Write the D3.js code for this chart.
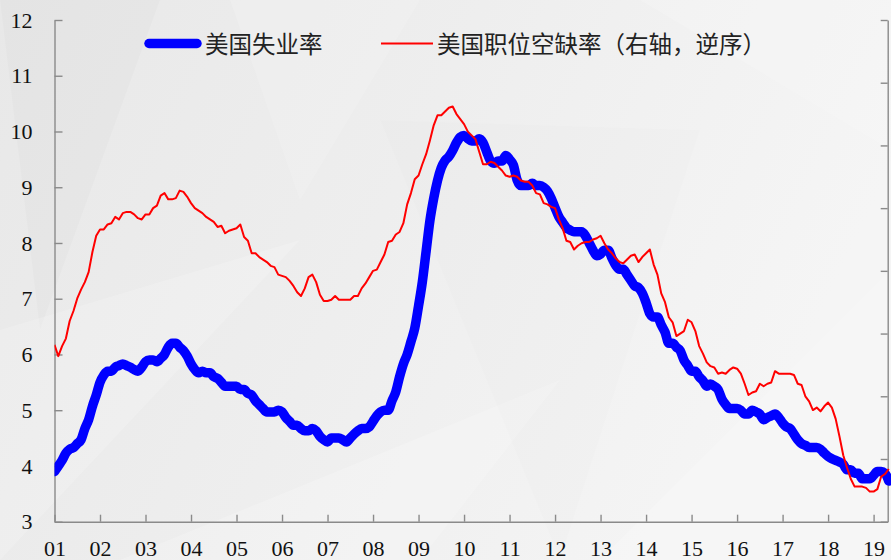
<!DOCTYPE html>
<html>
<head>
<meta charset="utf-8">
<script src="https://cdn.jsdelivr.net/npm/d3@7"></script>
<style>
html, body { margin: 0; padding: 0; background: #efefef; }
svg { display: block; }
</style>
</head>
<body>
<div class="chart"></div>
<script>
// monthly series, first value = Dec 2000
var startYear = 2000, startMonth = 12;
var tickYears = d3.range(2001, 2020);
var leftTicks = d3.range(3, 13);
var rightTicks = d3.range(1, 5.01, 0.5);

// US unemployment rate (3m avg), %
var unemployment = [3.90,
  4.00, 4.10, 4.23, 4.30, 4.33, 4.40, 4.47, 4.67, 4.83, 5.07, 5.27, 5.50,
  5.63, 5.70, 5.70, 5.77, 5.80, 5.83, 5.80, 5.77, 5.73, 5.70, 5.77, 5.87,
  5.90, 5.90, 5.87, 5.93, 6.00, 6.13, 6.20, 6.20, 6.13, 6.07, 5.97, 5.83,
  5.73, 5.67, 5.70, 5.67, 5.67, 5.60, 5.57, 5.50, 5.43, 5.43, 5.43, 5.43,
  5.37, 5.37, 5.30, 5.27, 5.17, 5.10, 5.03, 4.97, 4.97, 4.97, 5.00, 4.97,
  4.87, 4.80, 4.73, 4.73, 4.67, 4.63, 4.63, 4.67, 4.63, 4.53, 4.47, 4.43,
  4.50, 4.50, 4.50, 4.47, 4.43, 4.50, 4.57, 4.63, 4.67, 4.67, 4.70, 4.80,
  4.90, 4.97, 5.00, 5.00, 5.17, 5.33, 5.60, 5.83, 6.00, 6.23, 6.47, 6.87,
  7.30, 7.85, 8.40, 8.80, 9.12, 9.35, 9.48, 9.55, 9.66, 9.80, 9.90, 9.93,
  9.87, 9.83, 9.83, 9.87, 9.80, 9.63, 9.47, 9.43, 9.47, 9.47, 9.57, 9.50,
  9.40, 9.13, 9.03, 9.03, 9.03, 9.07, 9.03, 9.03, 9.00, 8.93, 8.80, 8.63,
  8.47, 8.37, 8.27, 8.23, 8.20, 8.20, 8.20, 8.13, 8.00, 7.87, 7.77, 7.80,
  7.87, 7.87, 7.73, 7.60, 7.53, 7.53, 7.43, 7.33, 7.23, 7.20, 7.10, 6.93,
  6.73, 6.67, 6.67, 6.53, 6.40, 6.20, 6.20, 6.13, 6.07, 5.90, 5.80, 5.70,
  5.70, 5.60, 5.53, 5.43, 5.47, 5.43, 5.37, 5.20, 5.10, 5.03, 5.03, 5.03,
  5.00, 4.93, 4.93, 5.00, 4.97, 4.93, 4.83, 4.87, 4.90, 4.93, 4.87, 4.77,
  4.70, 4.67, 4.57, 4.47, 4.40, 4.37, 4.33, 4.33, 4.33, 4.30, 4.23, 4.17,
  4.13, 4.10, 4.07, 4.03, 3.93, 3.93, 3.87, 3.87, 3.77, 3.77, 3.77, 3.83,
  3.90, 3.90, 3.87, 3.73];

// US job openings rate, % (right axis, reversed)
var openings = [3.59,
  3.68, 3.60, 3.54, 3.40, 3.32, 3.22, 3.15, 3.09, 3.01, 2.85, 2.72, 2.67,
  2.67, 2.63, 2.62, 2.57, 2.59, 2.54, 2.53, 2.53, 2.55, 2.58, 2.59, 2.55,
  2.55, 2.50, 2.48, 2.40, 2.38, 2.43, 2.43, 2.42, 2.36, 2.37, 2.41, 2.46,
  2.50, 2.52, 2.54, 2.57, 2.59, 2.61, 2.65, 2.64, 2.70, 2.68, 2.67, 2.66,
  2.63, 2.73, 2.76, 2.86, 2.86, 2.89, 2.91, 2.93, 2.96, 2.97, 3.03, 3.04,
  3.05, 3.08, 3.12, 3.17, 3.20, 3.14, 3.05, 3.03, 3.09, 3.19, 3.24, 3.24,
  3.23, 3.20, 3.23, 3.23, 3.23, 3.23, 3.20, 3.20, 3.14, 3.10, 3.05, 3.00,
  2.99, 2.93, 2.87, 2.77, 2.76, 2.71, 2.69, 2.62, 2.47, 2.38, 2.27, 2.24,
  2.15, 2.07, 1.96, 1.84, 1.76, 1.76, 1.73, 1.70, 1.69, 1.75, 1.79, 1.83,
  1.89, 1.92, 1.95, 2.05, 2.15, 2.15, 2.13, 2.14, 2.17, 2.20, 2.24, 2.25,
  2.24, 2.25, 2.28, 2.29, 2.29, 2.32, 2.38, 2.39, 2.46, 2.47, 2.49, 2.50,
  2.59, 2.66, 2.76, 2.77, 2.83, 2.80, 2.78, 2.77, 2.77, 2.75, 2.74, 2.72,
  2.78, 2.83, 2.86, 2.90, 2.93, 2.94, 2.91, 2.88, 2.87, 2.93, 2.89, 2.86,
  2.83, 2.95, 3.03, 3.18, 3.25, 3.37, 3.41, 3.52, 3.50, 3.48, 3.39, 3.41,
  3.48, 3.60, 3.66, 3.73, 3.76, 3.77, 3.82, 3.81, 3.82, 3.79, 3.77, 3.78,
  3.82, 3.90, 3.99, 3.97, 3.96, 3.90, 3.92, 3.90, 3.89, 3.80, 3.82, 3.82,
  3.82, 3.82, 3.83, 3.90, 3.91, 4.00, 4.04, 4.11, 4.09, 4.12, 4.08, 4.05,
  4.09, 4.18, 4.32, 4.47, 4.57, 4.66, 4.72, 4.72, 4.72, 4.73, 4.76, 4.76,
  4.74, 4.64, 4.62, 4.58];

var legendNames = ["美国失业率", "美国职位空缺率（右轴，逆序）"];

var width = 891, height = 560;
var plotLeft = 54.5, plotRight = 887.7, plotTop = 20, plotBottom = 521.7;

var svg = d3.select(".chart").append("svg")
    .attr("width", width)
    .attr("height", height);

// background
var defs = svg.append("defs");
var grad = defs.append("linearGradient").attr("id", "bg")
    .attr("x1", 0).attr("y1", 0).attr("x2", 1).attr("y2", 0.3);
grad.append("stop").attr("offset", 0).attr("stop-color", "#e8e8e8");
grad.append("stop").attr("offset", 0.5).attr("stop-color", "#eeeeee");
grad.append("stop").attr("offset", 1).attr("stop-color", "#f5f5f5");
svg.append("rect").attr("width", width).attr("height", height).attr("fill", "url(#bg)");

var facets = [
    [[0, 0], [160, 0], [40, 330], "#000", 0.015],
    [[0, 330], [300, 240], [0, 560], "#fff", 0.18],
    [[120, 560], [560, 380], [420, 560], "#fff", 0.2],
    [[380, 120], [560, 560], [700, 130], "#000", 0.008],
    [[600, 560], [900, 260], [891, 560], "#fff", 0.18],
    [[640, 0], [891, 0], [891, 150], "#fff", 0.15],
    [[230, 0], [420, 0], [300, 200], "#fff", 0.15]
];
svg.selectAll(".facet").data(facets).enter().append("path")
    .attr("class", "facet")
    .attr("d", function (d) { return "M" + d[0] + "L" + d[1] + "L" + d[2] + "Z"; })
    .attr("fill", function (d) { return d[3]; })
    .attr("fill-opacity", function (d) { return d[4]; });

function monthTime(i) {
    return startYear + (startMonth + i) / 12;
}

var x = d3.scaleLinear().domain([2001, 2019.31]).range([plotLeft, plotRight]);
var y = d3.scaleLinear().domain([3, 12]).range([plotBottom, plotTop]);
var y2 = d3.scaleLinear().domain([1, 5]).range([plotTop, plotBottom]);

var axisColor = "#8a8a8a";
var serif = "'Liberation Serif', 'Times New Roman', serif";

var gx = svg.append("g").attr("transform", "translate(0," + plotBottom + ")")
    .call(d3.axisBottom(x).tickValues(tickYears)
        .tickFormat(function (d) { return d3.format("02")(d % 100); })
        .tickSize(-7).tickSizeOuter(0).tickPadding(19));

var gy = svg.append("g").attr("transform", "translate(" + plotLeft + ",0)")
    .call(d3.axisLeft(y).tickValues(leftTicks)
        .tickSize(-8).tickSizeOuter(0).tickPadding(22));

var gy2 = svg.append("g").attr("transform", "translate(" + plotRight + ",0)")
    .call(d3.axisLeft(y2).tickValues(rightTicks).tickFormat("")
        .tickSize(7).tickSizeOuter(0));

[gx, gy, gy2].forEach(function (g) {
    g.selectAll("path, line").attr("stroke", axisColor).attr("stroke-width", 1.4);
    g.selectAll("text").attr("fill", "#111").attr("font-family", serif).attr("font-size", 22);
});

var blueLine = d3.line()
    .x(function (d, i) { return x(monthTime(i)); })
    .y(function (d) { return y(d); })
    .curve(d3.curveMonotoneX);

var redLine = d3.line()
    .x(function (d, i) { return x(monthTime(i)); })
    .y(function (d) { return y2(d); });

defs.append("clipPath").attr("id", "plot")
    .append("rect").attr("x", plotLeft).attr("y", 0)
    .attr("width", plotRight - plotLeft + 6).attr("height", plotBottom);

svg.append("path").datum(unemployment)
    .attr("clip-path", "url(#plot)")
    .attr("d", blueLine)
    .attr("fill", "none")
    .attr("stroke", "#0000ff")
    .attr("stroke-width", 9.5)
    .attr("stroke-linejoin", "round")
    .attr("stroke-linecap", "round");

svg.append("path").datum(openings)
    .attr("clip-path", "url(#plot)")
    .attr("d", redLine)
    .attr("fill", "none")
    .attr("stroke", "#ff0000")
    .attr("stroke-width", 2)
    .attr("stroke-linejoin", "round");

// legend
var legend = svg.append("g").attr("font-family", "'Noto Sans CJK SC', sans-serif").attr("font-size", 23.5);
legend.append("line").attr("x1", 149).attr("x2", 197).attr("y1", 43.5).attr("y2", 43.5)
    .attr("stroke", "#0000ff").attr("stroke-width", 9.5).attr("stroke-linecap", "round");
legend.append("text").attr("x", 205).attr("y", 43).attr("dominant-baseline", "central")
    .attr("fill", "#222").text(legendNames[0]);
legend.append("line").attr("x1", 381).attr("x2", 433).attr("y1", 43.5).attr("y2", 43.5)
    .attr("stroke", "#ff0000").attr("stroke-width", 2);
legend.append("text").attr("x", 437).attr("y", 43).attr("dominant-baseline", "central")
    .attr("fill", "#222").text(legendNames[1]);
</script>
</body>
</html>
